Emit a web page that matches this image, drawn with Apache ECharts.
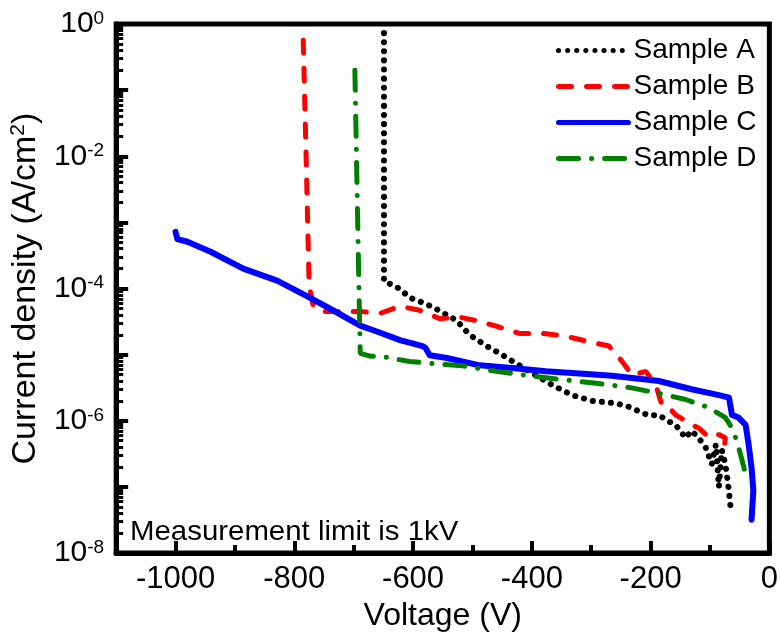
<!DOCTYPE html>
<html><head><meta charset="utf-8">
<script src="https://cdn.jsdelivr.net/npm/echarts@6/dist/echarts.min.js"></script>
<style>html,body{margin:0;padding:0;background:#fff}#c{width:781px;height:637px}</style>
</head><body><div id="c"></div>
<script>
// [voltage (V), current density (A/cm^2)]
const sampleA = [[-649,0.73],[-649,1.27e-4],[-631,1.11e-4],[-617,9.0e-5],[-606,7.3e-5],[-589,6.4e-5],[-572,5.5e-5],[-559,4.8e-5],[-527,3.3e-5],[-505,2.0e-5],[-476,1.35e-5],[-449,9.8e-6],[-421,6.9e-6],[-392,4.8e-6],[-366,3.5e-6],[-349,2.9e-6],[-329,2.4e-6],[-298,2.0e-6],[-262,1.86e-6],[-242,1.7e-6],[-220,1.4e-6],[-203,1.2e-6],[-186,1.23e-6],[-174,1.03e-6],[-158,8.7e-7],[-141,5.5e-7],[-131,7.1e-7],[-119,5.5e-7],[-107,3.9e-7],[-97,2.2e-7],[-90,4.4e-7],[-85,1.0e-7],[-80,3.6e-7],[-74,2.2e-7],[-69,1.0e-7],[-65,4.6e-8]];
const sampleB = [[-785,0.57],[-780,8.9e-3],[-775,1.11e-4],[-768,5.4e-5],[-753,4.5e-5],[-723,4.5e-5],[-689,4.5e-5],[-656,4.2e-5],[-622,5.4e-5],[-589,4.7e-5],[-555,3.5e-5],[-522,3.7e-5],[-488,3.2e-5],[-460,2.7e-5],[-421,2.1e-5],[-382,2.1e-5],[-342,1.9e-5],[-308,1.6e-5],[-270,1.35e-5],[-248,7.9e-6],[-231,4.9e-6],[-208,5.6e-6],[-191,3.4e-6],[-181,1.74e-6],[-169,1.58e-6],[-158,1.23e-6],[-141,1.0e-6],[-131,8.7e-7],[-119,7.8e-7],[-107,6.2e-7],[-97,5.5e-7],[-85,6.2e-7],[-74,5.5e-7],[-77,3.3e-7]];
const sampleC = [[-1000,7.2e-4],[-997,5.6e-4],[-980,5.1e-4],[-941,3.6e-4],[-886,2.0e-4],[-829,1.32e-4],[-778,7.6e-5],[-735,4.7e-5],[-689,2.75e-5],[-661,2.24e-5],[-622,1.66e-5],[-584,1.35e-5],[-579,1.26e-5],[-572,9.8e-6],[-543,8.9e-6],[-488,6.9e-6],[-433,6.3e-6],[-376,5.6e-6],[-320,5.2e-6],[-265,4.8e-6],[-208,4.2e-6],[-186,4.0e-6],[-131,3.0e-6],[-85,2.45e-6],[-68,2.24e-6],[-63,1.23e-6],[-52,1.12e-6],[-40,8.7e-7],[-35,4.4e-7],[-30,1.95e-7],[-27,8.9e-8],[-30,3.2e-8]];
const sampleD = [[-698,0.2],[-694,2.2e-3],[-689,1.05e-5],[-672,9.5e-6],[-656,9.5e-6],[-606,7.9e-6],[-572,7.4e-6],[-517,6.8e-6],[-460,5.6e-6],[-404,4.8e-6],[-349,4.2e-6],[-292,3.7e-6],[-236,3.2e-6],[-186,2.6e-6],[-141,2.1e-6],[-102,1.58e-6],[-74,1.12e-6],[-63,7.8e-7],[-55,5.0e-7],[-47,2.75e-7],[-40,1.55e-7]];

const seriesNames = ['Sample A','Sample B','Sample C','Sample D'];
const voltageMajorTicks = [-1000,-800,-600,-400,-200,0];
const voltageMinorTicks = [-900,-700,-500,-300,-100];
const currentMajorTicks = [1e-8,1e-7,1e-6,1e-5,1e-4,1e-3,1e-2,1e-1,1];
const currentLabelTicks = [1e-8,1e-6,1e-4,1e-2,1];
const currentMinorTicks = [];
for (let e = -8; e < 0; e++) for (let m = 2; m <= 9; m++) currentMinorTicks.push(+(m * Math.pow(10, e)).toPrecision(3));

const FONT = '"Liberation Sans", Arial, sans-serif';
const chart = echarts.init(document.getElementById('c'), null, {renderer: 'canvas'});

const lineCommon = {type: 'line', symbol: 'none', showSymbol: false, animation: false, smooth: false};

chart.setOption({
  animation: false,
  backgroundColor: '#fff',
  grid: {left: 116, right: 11, top: 24, bottom: 81, show: true, borderColor: '#000', borderWidth: 5, backgroundColor: 'transparent', containLabel: false},
  legend: {
    data: seriesNames, orient: 'vertical', left: 551, top: 30, itemWidth: 70, itemHeight: 14, itemGap: 5,
    itemStyle: {opacity: 0, borderWidth: 0},
    lineStyle: {width: 5, cap: 'round', type: 'inherit', opacity: 1},
    textStyle: {fontSize: 28, fontFamily: FONT, color: '#000', lineHeight: 31}, selectedMode: false
  },
  graphic: [{type: 'text', left: 130, top: 518, scaleX: 1.05, style: {text: 'Measurement limit is 1kV', font: '28px ' + FONT, fill: '#000'}}],
  xAxis: [{
    type: 'value', min: -1100, max: 0,
    name: 'Voltage (V)', nameLocation: 'middle', nameGap: 33,
    nameTextStyle: {fontSize: 32, fontFamily: FONT, color: '#000'},
    axisLine: {show: true, onZero: false, lineStyle: {color: '#000', width: 5}},
    axisTick: {show: true, inside: true, length: 12, lineStyle: {color: '#000', width: 4}, customValues: voltageMajorTicks},
    axisLabel: {show: true, margin: 11, fontSize: 31, fontFamily: FONT, color: '#000', customValues: voltageMajorTicks, showMinLabel: true, showMaxLabel: true, formatter: function (v) { return String(v); }},
    splitLine: {show: false}
  }, {
    type: 'value', min: -1100, max: 0, position: 'bottom', gridIndex: 0,
    axisLine: {show: false, onZero: false},
    axisTick: {show: true, inside: true, length: 8, lineStyle: {color: '#000', width: 4}, customValues: voltageMinorTicks},
    axisLabel: {show: false}, splitLine: {show: false}
  }],
  yAxis: [{
    type: 'log', logBase: 10, min: 1e-8, max: 1,
    name: '{a|Current density (A/cm}{s|2}{a|)}', nameLocation: 'middle', nameGap: 68, nameRotate: 90,
    nameTextStyle: {rich: {a: {fontSize: 34, fontFamily: FONT, color: '#000', lineHeight: 36}, s: {fontSize: 21, fontFamily: FONT, color: '#000', verticalAlign: 'top', lineHeight: 21}}},
    axisLine: {show: true, onZero: false, lineStyle: {color: '#000', width: 5}},
    axisTick: {show: true, inside: true, length: 12, lineStyle: {color: '#000', width: 4}, customValues: currentMajorTicks},
    axisLabel: {
      show: true, margin: 12, customValues: currentLabelTicks,
      formatter: function (v) { const e = Math.round(Math.log10(v)); return '{b|10}{s|' + e + '}'; },
      rich: {b: {fontSize: 30, fontFamily: FONT, color: '#000', lineHeight: 30}, s: {fontSize: 19, fontFamily: FONT, color: '#000', verticalAlign: 'top', lineHeight: 19}}
    },
    splitLine: {show: false}
  }, {
    type: 'log', logBase: 10, min: 1e-8, max: 1, position: 'left', gridIndex: 0,
    axisLine: {show: false, onZero: false},
    axisTick: {show: true, inside: true, length: 7, lineStyle: {color: '#000', width: 3}, customValues: currentMinorTicks},
    axisLabel: {show: false}, splitLine: {show: false}
  }],
  series: [
    Object.assign({}, lineCommon, {name: 'Sample A', data: sampleA, itemStyle: {color: '#000'}, lineStyle: {color: '#000', width: 6, type: [0.1, 9], cap: 'round'}}),
    Object.assign({}, lineCommon, {name: 'Sample B', data: sampleB, itemStyle: {color: '#ff0000'}, lineStyle: {color: '#ff0000', width: 5, type: [13, 15], cap: 'round'}}),
    Object.assign({}, lineCommon, {name: 'Sample C', data: sampleC, itemStyle: {color: '#0000ff'}, lineStyle: {color: '#0000ff', width: 6, type: 'solid', cap: 'round', join: 'round'}}),
    Object.assign({}, lineCommon, {name: 'Sample D', data: sampleD, itemStyle: {color: '#008000'}, lineStyle: {color: '#008000', width: 5, type: [20, 13, 0.1, 13], cap: 'round'}})
  ]
});
</script></body></html>
